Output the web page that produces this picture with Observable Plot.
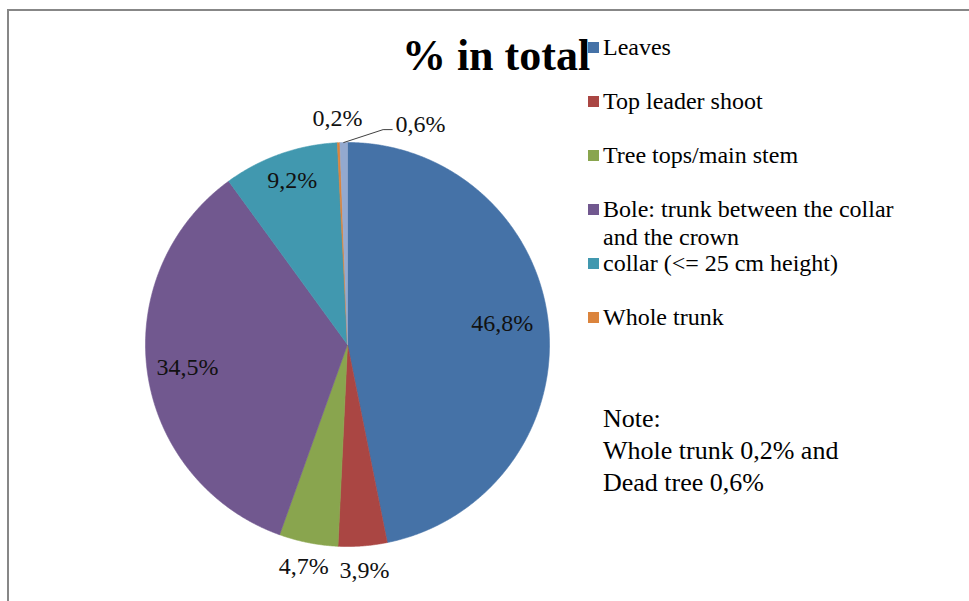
<!DOCTYPE html>
<html>
<head>
<meta charset="utf-8">
<script src="https://cdn.jsdelivr.net/npm/d3@7"></script>
<script src="https://cdn.jsdelivr.net/npm/@observablehq/plot@0.6"></script>
<style>
  html, body { margin: 0; padding: 0; background: #fff; }
  #wrap { position: relative; width: 969px; height: 601px; overflow: hidden; background: #fff;
          font-family: 'Liberation Serif', 'Times New Roman', serif; }
  #wrap > svg { position: absolute; left: 0; top: 0; }
  #wrap svg text { font-family: 'Liberation Serif', 'Times New Roman', serif; }
  #frame { position: absolute; left: 7px; top: 9px; right: -10px; bottom: -10px;
           border-top: 2.5px solid #878787; border-left: 2.5px solid #878787; }
</style>
</head>
<body>
<div id="wrap"><div id="frame"></div></div>
<script>
// ---- data ----
const title = "% in total";
const categories = [
  "Leaves",
  "Top leader shoot",
  "Tree tops/main stem",
  "Bole: trunk between the collar and the crown",
  "collar (<= 25 cm height)",
  "Whole trunk",
  "Dead tree"
];
const values = [46.8, 3.9, 4.7, 34.5, 9.2, 0.2, 0.6];
const colors = ["#4572A7", "#AA4643", "#89A54E", "#71588F", "#4198AF", "#DB843D", "#93A9CF"];
// legend as shown (Dead tree entry is cut off in the original)
const legendLabels = [
  ["Leaves"],
  ["Top leader shoot"],
  ["Tree tops/main stem"],
  ["Bole: trunk between the collar", "and the crown"],
  ["collar (<= 25 cm height)"],
  ["Whole trunk"]
];
const noteLines = ["Note:", "Whole trunk 0,2% and", "Dead tree 0,6%"];

// ---- label placement style (radius as fraction of pie radius) ----
const labelRadius = { 0: 0.77, 1: 1.12, 2: 1.12, 3: 0.80, 4: 0.82, 5: 1.12, 6: 1.1 };
const labelDy = { 0: -6, 4: -8 };
const fmt = v => v.toFixed(1).replace(".", ",") + "%";

// ---- geometry from data ----
const total = d3.sum(values);
let acc = 0;
const slices = values.map((v, i) => {
  const a0 = acc / total * 2 * Math.PI;
  acc += v;
  const a1 = acc / total * 2 * Math.PI;
  return { name: categories[i], value: v, a0, a1, mid: (a0 + a1) / 2, i };
});
const pt = (a, r) => ({ x: r * Math.sin(a), y: r * Math.cos(a) });

const polyPts = [];
for (const s of slices) {
  polyPts.push({ name: s.name, ...pt(0, 0) });
  const n = Math.max(2, Math.ceil((s.a1 - s.a0) / (Math.PI / 720)));
  for (let k = 0; k <= n; k++) {
    polyPts.push({ name: s.name, ...pt(s.a0 + (s.a1 - s.a0) * k / n, 1) });
  }
  polyPts.push({ name: s.name, ...pt(0, 0) });
}

const labels = slices.map(s => {
  const p = pt(s.mid, labelRadius[s.i]);
  return { ...p, text: fmt(s.value), dy: labelDy[s.i] || 0, i: s.i };
});
// the tiny "Dead tree" label is pulled out to the right with a leader line
const dead = labels[6];
dead.x += 0.382; dead.y -= 0.011;
const leaderStart = pt(slices[6].mid, 1);
const leaderEndX = dead.x - 0.14, leaderY = dead.y - 0.025;
const leader = [leaderStart, { x: leaderEndX - 0.045, y: leaderY }, { x: leaderEndX, y: leaderY }];

const font = "'Liberation Serif', 'Times New Roman', serif";

const chart = Plot.plot({
  width: 969,
  height: 601,
  marginLeft: 145,
  marginRight: 420,
  marginTop: 142,
  marginBottom: 55,
  x: { domain: [-1, 1], axis: null },
  y: { domain: [-1, 1], axis: null },
  color: { domain: categories, range: colors },
  style: { fontFamily: font, background: "transparent", overflow: "visible" },
  marks: [
    Plot.line(polyPts, { x: "x", y: "y", z: "name", fill: "name", stroke: "name", strokeWidth: 0.6, curve: "linear" }),
    Plot.line(leader, { x: "x", y: "y", stroke: "#404040", strokeWidth: 1 }),
    Plot.text(labels.filter(d => d.dy === 0), { x: "x", y: "y", text: "text", fontSize: 24, fill: "#111", fontFamily: font }),
    Plot.text(labels.filter(d => d.dy === -6), { x: "x", y: "y", text: "text", dy: -6, fontSize: 24, fill: "#111", fontFamily: font }),
    Plot.text(labels.filter(d => d.dy === -8), { x: "x", y: "y", text: "text", dy: -8, fontSize: 24, fill: "#111", fontFamily: font })
  ]
});
const wrap = document.getElementById("wrap");
wrap.appendChild(chart);

// ---- title, legend and note ----
const over = d3.select(wrap).append("svg")
  .attr("width", 969).attr("height", 601)
  .style("font-family", font);

over.append("text")
  .attr("x", 496).attr("y", 70)
  .attr("text-anchor", "middle")
  .attr("font-size", 44).attr("font-weight", "bold").attr("fill", "#000")
  .text(title);

const legY0 = 55, legStep = 54;
legendLabels.forEach((lines, i) => {
  const by = legY0 + i * legStep;
  over.append("rect")
    .attr("x", 588).attr("y", by - 13).attr("width", 11).attr("height", 11)
    .attr("fill", colors[i]);
  lines.forEach((ln, j) => {
    over.append("text")
      .attr("x", 603).attr("y", by + j * 28)
      .attr("font-size", 24).attr("fill", "#000")
      .text(ln);
  });
});

noteLines.forEach((ln, j) => {
  over.append("text")
    .attr("x", 603).attr("y", 427 + j * 32)
    .attr("font-size", 26).attr("fill", "#000")
    .text(ln);
});
</script>
</body>
</html>
